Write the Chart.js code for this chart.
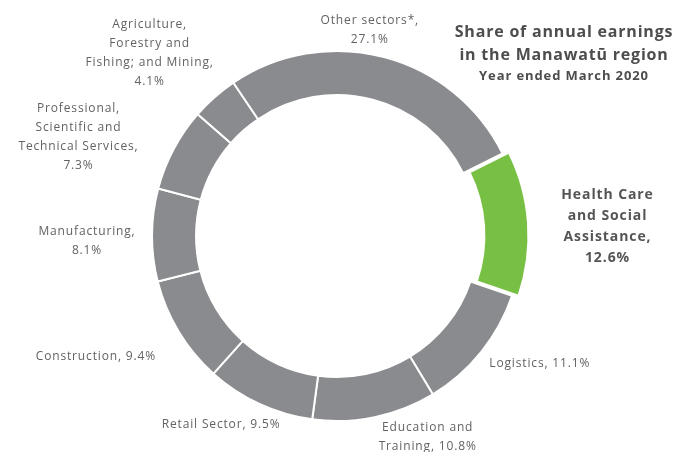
<!DOCTYPE html>
<html>
<head>
<meta charset="utf-8">
<script src="https://cdn.jsdelivr.net/npm/chart.js@4.4.1/dist/chart.umd.min.js"></script>
<style>
  body { margin: 0; background: #fff; }
  #wrap { width: 675px; height: 452px; position: relative; }
</style>
</head>
<body>
<div id="wrap"><canvas id="chartCanvas"></canvas></div>
<script>
// Sectors, clockwise from the highlighted one
const sectors = [
    "Health Care and Social Assistance",
    "Logistics",
    "Education and Training",
    "Retail Sector",
    "Construction",
    "Manufacturing",
    "Professional, Scientific and Technical Services",
    "Agriculture, Forestry and Fishing; and Mining",
    "Other sectors*"
];
const shares = [12.6, 11.1, 10.8, 9.5, 9.4, 8.1, 7.3, 4.1, 27.1];

// How each label is broken into lines
const labelLines = [
    ["Health Care", "and Social", "Assistance,", "12.6%"],
    ["Logistics, 11.1%"],
    ["Education and", "Training, 10.8%"],
    ["Retail Sector, 9.5%"],
    ["Construction, 9.4%"],
    ["Manufacturing,", "8.1%"],
    ["Professional,", "Scientific and", "Technical Services,", "7.3%"],
    ["Agriculture,", "Forestry and", "Fishing; and Mining,", "4.1%"],
    ["Other sectors*,", "27.1%"]
];
const highlight = "Health Care and Social Assistance";
const titleLines = ["Share of annual earnings", "in the Manawatū region"];
const subtitle = "Year ended March 2020";

// Nudges from the default label anchor (just outside the middle of each slice)
const labelNudge = [[51, 5], [47, 2], [50, 5], [-32, 7], [-70, 17], [-50, 6], [-82, -5], [-55, -33], [-18, -12]];

const grey = "#8a8b8e";
const green = "#78c043";
const textColor = "#626262";

// Draws the sector labels and the title block
const labelPlugin = {
    id: "sectorLabels",
    afterDatasetsDraw(chart) {
        const ctx = chart.ctx;
        const meta = chart.getDatasetMeta(0);
        ctx.save();
        ctx.textAlign = "center";
        ctx.textBaseline = "middle";

        meta.data.forEach((arc, i) => {
            const p = arc.getProps(["x", "y", "startAngle", "endAngle", "outerRadius"], true);
            const mid = (p.startAngle + p.endAngle) / 2;
            const r = p.outerRadius + (arc.options.offset || 0) + 15;
            const ax = p.x + Math.cos(mid) * r + labelNudge[i][0];
            const ay = p.y + Math.sin(mid) * r + labelNudge[i][1];
            const isHi = sectors[i] === highlight;
            const lh = isHi ? 21 : 19;
            ctx.font = isHi ? "bold 14px 'Open Sans'" : "12px 'Open Sans'";
            ctx.letterSpacing = isHi ? "0.9px" : "0.85px";
            ctx.fillStyle = isHi ? "#555" : textColor;
            const lines = labelLines[i];
            const top = ay - (lines.length - 1) * lh / 2;
            lines.forEach((line, j) => ctx.fillText(line, ax, top + j * lh));
        });

        // title block, top right
        ctx.fillStyle = "#4d4d4d";
        ctx.font = "bold 16px 'Open Sans'";
        ctx.letterSpacing = "0.8px";
        ctx.fillText(titleLines[0], 564, 32);
        ctx.fillText(titleLines[1], 564, 55);
        ctx.font = "bold 13px 'Open Sans'";
        ctx.letterSpacing = "0.9px";
        ctx.fillText(subtitle, 564, 76);
        ctx.restore();
    }
};

const ctx = document.getElementById("chartCanvas").getContext("2d");
const myChart = new Chart(ctx, {
    type: "doughnut",
    data: {
        labels: sectors,
        datasets: [{
            data: shares,
            backgroundColor: sectors.map(s => s === highlight ? green : grey),
            borderColor: "#fff",
            borderWidth: 2,
            hoverBorderWidth: 2,
            offset: sectors.map(s => s === highlight ? 20 : 0),
            hoverOffset: 0
        }]
    },
    options: {
        responsive: true,
        maintainAspectRatio: false,
        animation: false,
        events: [],
        rotation: 63.5,
        cutout: "76.2%",
        layout: {
            padding: { left: 141, right: 142, top: 40, bottom: 20 }
        },
        plugins: {
            legend: { display: false },
            tooltip: { enabled: false }
        }
    },
    plugins: [labelPlugin]
});
</script>
</body>
</html>
